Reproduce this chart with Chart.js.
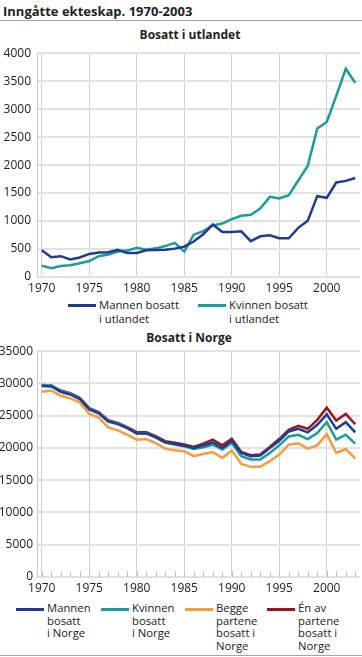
<!DOCTYPE html>
<html lang="no">
<head>
<meta charset="UTF-8">
<title>Inngåtte ekteskap. 1970-2003</title>
<script src="https://cdn.jsdelivr.net/npm/chart.js"></script>
<style>
  body { margin: 0; width: 362px; height: 657px; position: relative; background: #fff;
         font-family: "Open Sans", sans-serif; color: #222; overflow: hidden; }
  .title { position: absolute; left: 3px; top: 2px; font-size: 13px; font-weight: bold; white-space: nowrap; }
  .rule { position: absolute; left: 0; width: 362px; height: 1px; background: #a6a6a6; }
  .sub { position: absolute; width: 200px; margin-left: -100px; text-align: center;
         font-size: 12px; font-weight: bold; line-height: 16px; }
  canvas { position: absolute; left: 0; }
  .legend { position: absolute; left: 0; width: 362px; font-size: 11.3px; }
  .item { position: absolute; top: 0; }
  .swatch { position: absolute; top: 5px; width: 28px; height: 3px; }
  .txt { position: absolute; left: 31px; top: -1px; white-space: pre; }
</style>
</head>
<body>
<div class="title">Inngåtte ekteskap. 1970-2003</div>
<div class="rule" style="top:20px"></div>

<div class="sub" style="left:190px; top:27px">Bosatt i utlandet</div>
<canvas id="abroad" width="362" height="257" style="top:40px"></canvas>
<div class="legend" id="legendAbroad" style="top:299px"></div>

<div class="sub" style="left:189px; top:330px">Bosatt i Norge</div>
<canvas id="norway" width="362" height="257" style="top:340px"></canvas>
<div class="legend" id="legendNorway" style="top:603px"></div>
<div class="rule" style="top:655px"></div>

<script>
const years = [1970, 1971, 1972, 1973, 1974, 1975, 1976, 1977, 1978, 1979,
               1980, 1981, 1982, 1983, 1984, 1985, 1986, 1987, 1988, 1989,
               1990, 1991, 1992, 1993, 1994, 1995, 1996, 1997, 1998, 1999,
               2000, 2001, 2002, 2003];
const tickYears = [1970, 1975, 1980, 1985, 1990, 1995, 2000];

// Bosatt i utlandet
const mannenUtland = [480, 355, 372, 314, 349, 413, 437, 442, 484, 431,
                      431, 477, 484, 489, 507, 542, 634, 763, 938, 804,
                      804, 816, 641, 728, 746, 693, 693, 879, 1007, 1445,
                      1415, 1689, 1718, 1770];
const kvinnenUtland = [204, 157, 198, 210, 245, 285, 372, 402, 454, 472,
                       524, 489, 512, 553, 611, 454, 757, 821, 921, 956,
                       1036, 1095, 1113, 1225, 1432, 1403, 1462, 1724, 1986, 2655,
                       2772, 3237, 3721, 3471];

// Bosatt i Norge
const mannenNorge = [29590, 29530, 28710, 28300, 27590, 25990, 25380, 24100, 23690, 23070,
                     22250, 22250, 21640, 20870, 20610, 20360, 20000, 20360, 20870, 20000,
                     21130, 19220, 18720, 18820, 20000, 21130, 22560, 22970, 22410, 23590,
                     25220, 22970, 23990, 22410];
const kvinnenNorge = [29740, 29740, 28870, 28400, 27700, 26100, 25500, 24200, 23800, 23150,
                      22300, 22300, 21650, 20850, 20550, 20250, 19840, 20100, 20510, 19740,
                      20760, 18720, 18210, 18210, 19220, 20410, 21790, 22050, 21380, 22300,
                      23990, 21290, 22050, 20670];
const beggeNorge = [28715, 28915, 28100, 27690, 27070, 25280, 24720, 23180, 22720, 22050,
                    21290, 21380, 20760, 19900, 19640, 19490, 18720, 19070, 19380, 18460,
                    19590, 17540, 17070, 17070, 17950, 18980, 20520, 20720, 19900, 20410,
                    22150, 19220, 19840, 18360];
const enAvNorge = [29750, 29700, 28900, 28480, 27780, 26180, 25560, 24300, 23900, 23250,
                   22450, 22450, 21840, 21060, 20800, 20550, 20150, 20670, 21290, 20410,
                   21440, 19380, 18870, 18980, 20150, 21380, 22820, 23440, 22970, 24360,
                   26250, 24250, 25280, 23680];

const namesUtland = ['Mannen bosatt\ni utlandet', 'Kvinnen bosatt\ni utlandet'];
const namesNorge = ['Mannen\nbosatt\ni Norge', 'Kvinnen\nbosatt\ni Norge',
                    'Begge\npartene\nbosatt i\nNorge', 'Én av\npartene\nbosatt i\nNorge'];

const BLUE = '#1f3b95', TEAL = '#1b9c97', ORANGE = '#f99b3b', RED = '#9b1519';
const FONT = 'Open Sans';

// small year marks along the bottom of the Norway panel
const minorTicks = {
  id: 'minorTicks',
  beforeDatasetsDraw(chart) {
    const {ctx, chartArea, scales} = chart;
    ctx.save();
    ctx.strokeStyle = '#c4c4c4';
    ctx.lineWidth = 1;
    years.forEach(yr => {
      const px = Math.round(scales.x.getPixelForValue(yr)) + 0.5;
      ctx.beginPath();
      ctx.moveTo(px, chartArea.bottom);
      ctx.lineTo(px, chartArea.bottom - 6);
      ctx.stroke();
    });
    ctx.restore();
  }
};

function buildChart(id, names, series, colors, yMax, yStep, padTop, yPad, extra) {
  return new Chart(document.getElementById(id), {
    type: 'line',
    data: {
      datasets: series.map((vals, i) => ({
        label: names[i].replace(/\n/g, ' '),
        data: years.map((yr, j) => ({x: yr, y: vals[j]})),
        borderColor: colors[i],
        borderWidth: 2.5,
        pointRadius: 0,
        tension: 0,
        fill: false
      }))
    },
    plugins: extra,
    options: {
      responsive: false,
      animation: false,
      events: [],
      layout: {padding: {top: padTop, right: 2, left: 0, bottom: 0}},
      plugins: {legend: {display: false}, title: {display: false}, tooltip: {enabled: false}},
      scales: {
        x: {
          type: 'linear', min: 1969.5, max: 2003.5,
          afterBuildTicks: s => { s.ticks = tickYears.map(v => ({value: v})); },
          afterFit: s => { s.height = 20; },
          ticks: {autoSkip: false, maxRotation: 0, padding: 4, color: '#222',
                  font: {family: FONT, size: 12}, callback: v => String(v)},
          grid: {drawTicks: false, color: '#d2d2d2', lineWidth: 1},
          border: {display: false}
        },
        y: {
          min: 0, max: yMax,
          afterFit: s => { s.width = 37; },
          ticks: {stepSize: yStep, padding: yPad, color: '#222', font: {family: FONT, size: 12},
                  callback: v => String(v)},
          grid: {drawTicks: false, color: '#e2e2e2', lineWidth: 2},
          border: {color: '#c8c8c8', width: 1}
        }
      }
    }
  });
}

function buildLegend(id, names, colors, lefts, lineHeight) {
  const box = document.getElementById(id);
  names.forEach((name, i) => {
    const item = document.createElement('div');
    item.className = 'item';
    item.style.left = lefts[i] + 'px';
    item.innerHTML = '<div class="swatch" style="background:' + colors[i] + '"></div>' +
                     '<div class="txt" style="line-height:' + lineHeight + 'px"></div>';
    item.querySelector('.txt').textContent = name;
    box.appendChild(item);
  });
}

buildChart('abroad', namesUtland, [mannenUtland, kvinnenUtland], [BLUE, TEAL], 4000, 500, 8, 6, []);
buildChart('norway', namesNorge, [mannenNorge, kvinnenNorge, beggeNorge, enAvNorge],
           [BLUE, TEAL, ORANGE, RED], 35000, 5000, 9, 4, [minorTicks]);

buildLegend('legendAbroad', namesUtland, [BLUE, TEAL], [68, 198], 14);
buildLegend('legendNorway', namesNorge, [BLUE, TEAL, ORANGE, RED], [16, 101, 185, 267], 12.5);
</script>
</body>
</html>
